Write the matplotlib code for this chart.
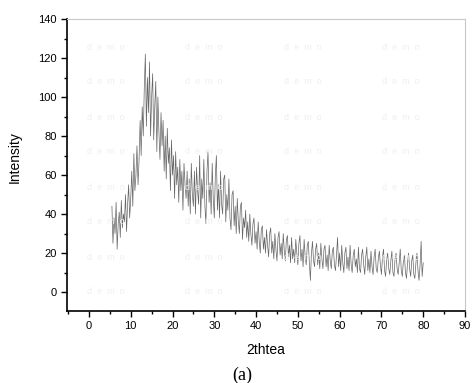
import numpy as np
import matplotlib
matplotlib.use("Agg")
import matplotlib.pyplot as plt
from matplotlib.ticker import MultipleLocator

intensity = [
    44, 25, 38, 30, 46, 22, 35, 41, 28, 47, 33, 40, 36, 50, 31, 45,
    55, 38, 48, 62, 44, 71, 52, 60, 75, 55, 68, 88, 70, 95, 80, 105,
    122, 85, 110, 92, 118, 80, 100, 112, 78, 95, 108, 72, 100, 82, 68, 92,
    75, 88, 62, 80, 58, 84, 66, 74, 52, 78, 60, 70, 48, 72, 55, 64,
    46, 68, 52, 62, 42, 66, 55, 48, 62, 44, 58, 40, 66, 50, 44, 62,
    40, 64, 52, 45, 70, 38, 58, 48, 68, 44, 35, 62, 72, 46, 56, 40,
    66, 48, 38, 60, 70, 42, 55, 38, 62, 45, 40, 58, 60, 36, 50, 42,
    58, 38, 32, 50, 52, 34, 44, 30, 48, 36, 30, 44, 46, 27, 38, 33,
    42, 28, 36, 26, 40, 30, 24, 35, 38, 25, 31, 22, 36, 26, 20, 32,
    34, 22, 28, 20, 32, 24, 18, 30, 33, 20, 26, 17, 30, 22, 16, 28,
    31, 19, 25, 17, 30, 21, 16, 27, 29, 18, 24, 15, 28, 17, 22, 15,
    27, 20, 14, 25, 29, 16, 22, 13, 27, 18, 14, 24, 26, 15, 6, 20,
    26, 16, 13, 22, 25, 14, 20, 12, 25, 17, 12, 22, 24, 13, 19, 11,
    24, 16, 12, 21, 23, 14, 11, 19, 28, 13, 20, 11, 24, 15, 10, 20,
    23, 12, 18, 11, 24, 14, 10, 19, 22, 13, 17, 10, 23, 12, 10, 19,
    22, 14, 9, 18, 23, 11, 17, 10, 21, 13, 9, 18, 22, 12, 10, 17,
    21, 14, 9, 18, 22, 11, 8, 17, 20, 12, 9, 16, 21, 10, 8, 17,
    20, 12, 9, 15, 22, 11, 8, 16, 19, 10, 7, 15, 20, 12, 8, 16,
    19, 9, 7, 15, 20, 11, 6, 14, 26, 8, 15,
]
# 2theta grid (0.25 deg steps starting at 5.5)
two_theta = [5.5 + 0.25 * i for i in range(len(intensity))]

x_ticks = [0, 10, 20, 30, 40, 50, 60, 70, 80, 90]
y_ticks = [0, 20, 40, 60, 80, 100, 120, 140]

plt.rcParams['font.family'] = ['Liberation Sans', 'DejaVu Sans']

fig = plt.figure(figsize=(4.72, 3.83), dpi=100)
ax = fig.add_axes([67 / 472, 1 - 311 / 383, (465 - 67) / 472, (311 - 19) / 383])

# faint "demo" watermark grid
for row_px in [47, 82, 117, 152, 187, 222, 257, 292]:
    for col_px in [87, 185, 284, 382]:
        fig.text(col_px / 472, 1 - row_px / 383, "d  e  m  o", fontsize=6.5,
                 color="#efefef", ha="left", va="center", zorder=0)

ax.set_facecolor("none")
ax.plot(two_theta, intensity, color="#666666", lw=0.5, zorder=3)

ax.set_xlim(-5.25, 90)
ax.set_ylim(-9.7, 140)
ax.set_xticks(x_ticks)
ax.set_yticks(y_ticks)
ax.xaxis.set_minor_locator(MultipleLocator(5))
ax.yaxis.set_minor_locator(MultipleLocator(10))
ax.tick_params(which="major", direction="out", length=4, width=1, labelsize=8)
ax.tick_params(which="minor", direction="out", length=2.5, width=1)
ax.spines["left"].set_linewidth(1.2)
ax.spines["bottom"].set_linewidth(1.2)
ax.spines["top"].set_color("#c8c8c8")
ax.spines["right"].set_color("#c8c8c8")
ax.spines["top"].set_linewidth(0.8)
ax.spines["right"].set_linewidth(0.8)

ax.set_xlabel("2thtea", fontsize=10)
ax.xaxis.label.set_va("center")
ax.xaxis.set_label_coords(0.5, (311 - 350) / 292)
ax.set_ylabel("Intensity", fontsize=10)
ax.yaxis.label.set_va("center")
ax.yaxis.set_label_coords((15 - 67) / 398, (311 - 157) / 292)

fig.text(242 / 472, 1 - 375 / 383, "(a)", fontsize=13, family=["Liberation Serif"],
         ha="center", va="center")

fig.savefig("out.png", dpi=100)
